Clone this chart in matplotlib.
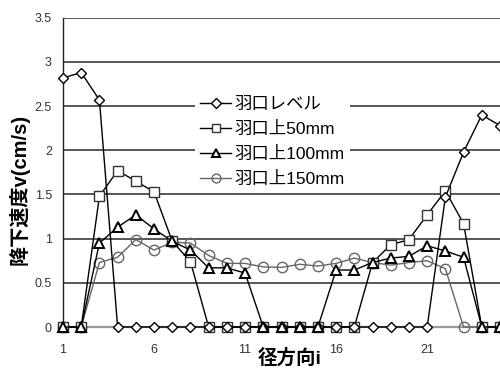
import matplotlib
matplotlib.use("Agg")
import matplotlib.pyplot as plt
import numpy as np

plt.rcParams['font.family'] = ['Liberation Sans', 'Noto Sans CJK JP']

# 径方向位置 i = 1..25
pos = np.arange(1, 26)

# 降下速度 v (cm/s)
v_level = [2.82, 2.88, 2.57, 0, 0, 0, 0, 0, 0, 0, 0, 0, 0, 0, 0, 0, 0, 0, 0, 0, 0,
           1.47, 1.98, 2.40, 2.28]
v_50 = [0, 0, 1.48, 1.77, 1.65, 1.53, 0.97, 0.74, 0, 0, 0, 0, 0, 0, 0, 0, 0,
        0.73, 0.93, 0.99, 1.27, 1.54, 1.17, 0, 0]
v_100 = [0, 0, 0.95, 1.13, 1.27, 1.11, 0.97, 0.87, 0.67, 0.67, 0.61, 0, 0, 0, 0,
         0.645, 0.645, 0.73, 0.78, 0.80, 0.92, 0.86, 0.79, 0, 0]
v_150 = [0, 0, 0.73, 0.79, 0.99, 0.87, 0.96, 0.95, 0.81, 0.72, 0.72, 0.68, 0.675,
         0.71, 0.69, 0.72, 0.78, 0.73, 0.70, 0.73, 0.75, 0.66, 0, 0, 0]

labels = ['羽口レベル', '羽口上50mm', '羽口上100mm', '羽口上150mm']
xticks = [1, 6, 11, 16, 21]
yticks = [0, 0.5, 1, 1.5, 2, 2.5, 3, 3.5]
ytick_labels = ['0', '0.5', '1', '1.5', '2', '2.5', '3', '3.5']

fig = plt.figure(figsize=(5, 3.69), dpi=100)
ax = fig.add_axes([0.126, 0.1138, 0.874, 0.838])

ax.plot(pos, v_level, color='black', lw=1.0, marker='D', ms=5.6, mfc='white',
        mec='black', mew=1.0, clip_on=False, zorder=5, label=labels[0])
ax.plot(pos, v_50, color='black', lw=1.0, marker='s', ms=7.2, mfc='white',
        mec='#333333', mew=1.0, clip_on=False, zorder=4, label=labels[1])
ax.plot(pos, v_100, color='black', lw=1.0, marker='^', ms=7.5, mfc='white',
        mec='black', mew=1.4, clip_on=False, zorder=6, label=labels[2])
ax.plot(pos, v_150, color='#666666', lw=1.0, marker='o', ms=7.5, mfc='none',
        mec='#666666', mew=1.0, clip_on=False, zorder=3, label=labels[3])

ax.set_xlim(1, 25)
ax.set_ylim(0, 3.5)
ax.set_xticks(xticks)
ax.set_yticks(yticks)
ax.set_yticklabels(ytick_labels)
ax.tick_params(axis='both', length=0, labelsize=9, labelcolor='#333333')
ax.tick_params(axis='y', pad=8)
ax.tick_params(axis='x', pad=12)

ax.set_axisbelow(True)
ax.grid(axis='y', color='#3a3a3a', lw=1.2)
ax.grid(axis='x', visible=False)
for s in ['top', 'right']:
    ax.spines[s].set_visible(False)
ax.spines['left'].set_color('#222222')
ax.spines['left'].set_linewidth(1.0)
ax.spines['bottom'].set_color('#999999')
ax.spines['bottom'].set_linewidth(1.6)

ax.set_ylabel('降下速度v(cm/s)', fontsize=14.5, fontweight='bold',
              ha='center', va='center')
ax.yaxis.set_label_coords(-0.101, 0.445)
ax.set_xlabel('径方向i', fontsize=14, fontweight='bold', ha='center', va='center')
ax.xaxis.set_label_coords(0.519, -0.10)

leg = ax.legend(loc='upper left', bbox_to_anchor=(0.282, 0.79), frameon=True,
                fancybox=False, edgecolor='none', facecolor='white', framealpha=1,
                prop={'size': 12.5}, handlelength=1.8, handletextpad=0.2,
                labelspacing=0.53, borderpad=0.3, markerscale=0.85)
leg.set_zorder(10)

fig.savefig('out.png', dpi=100)
